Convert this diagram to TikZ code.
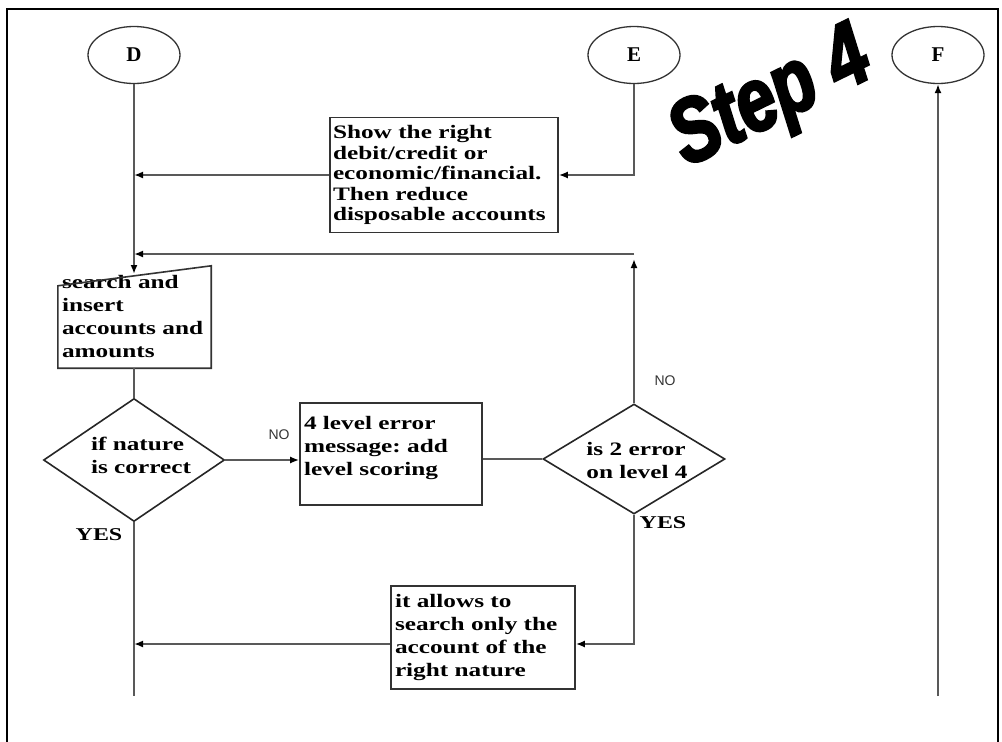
\documentclass[tikz,border=0pt]{standalone}
\usepackage{fontspec}
\setmainfont{Liberation Serif}
\newfontfamily\boxfont[FakeStretch=1.33]{Liberation Serif}
\newfontfamily\nofont{Liberation Sans}
\newfontfamily\stepfont[FakeBold=3,FakeStretch=0.78]{Liberation Sans}
\usetikzlibrary{arrows.meta,shapes.geometric,calc}
\frenchspacing
\begin{document}
\begin{tikzpicture}[x=1pt,y=-1pt,
  conn/.style={draw=black!65, line width=1.8pt},
  arr/.style={conn, -{Latex[length=9pt,width=7pt,color=black]}},
  proc/.style={draw=black!80, line width=1.6pt, rectangle, inner xsep=4pt, inner ysep=0pt,
     align=left, anchor=center, font=\boxfont\bfseries\fontsize{19}{23}\selectfont},
  term/.style={draw=black!80, line width=1.3pt, ellipse, minimum width=92pt, minimum height=57pt,
     inner sep=0pt, font=\bfseries\fontsize{21}{24}\selectfont},
  dec/.style={draw=black!85, line width=1.6pt, diamond, inner sep=0pt},
  dectxt/.style={align=left, font=\boxfont\bfseries\fontsize{19}{23}\selectfont},
  nolab/.style={font=\nofont\fontsize{14}{16}\selectfont, text=black!80},
  yeslab/.style={font=\boxfont\bfseries\fontsize{18}{20}\selectfont}]
\useasboundingbox (0,0) rectangle (1002,742);
\draw[line width=1.6pt] (7,9) rectangle (998,790);

% terminals
\node[term] (D) at (134,55) {D};
\node[term] (E) at (634,55) {E};
\node[term] (F) at (938,55) {F};

% boxes
\node[proc, minimum width=228pt, minimum height=115pt, text width=222pt, inner xsep=3pt,
  font=\boxfont\bfseries\fontsize{19}{20.5}\selectfont] (b1) at (444,175)
  {Show the right\\debit/credit or\\economic/financial.\\Then reduce\\disposable accounts};

\node[align=left, inner xsep=4pt, inner ysep=0pt, minimum width=153pt, minimum height=102pt,
  text width=145pt, font=\boxfont\bfseries\fontsize{19}{23}\selectfont] (srch) at (134.5,317)
  {search and\\insert\\accounts and\\amounts};
\draw[draw=black!80, line width=1.6pt] (srch.south west) -- (srch.south east) -- (srch.north east)
  -- ($(srch.north west)+(0,20)$) -- cycle;

\node[proc, minimum width=182pt, minimum height=102pt, text width=174pt] (b2) at (391,454)
  {4 level error\\message: add\\level scoring\\[-6pt]~};

\node[proc, minimum width=184pt, minimum height=103pt, text width=176pt] (b3) at (483,637.5)
  {it allows to\\search only the\\account of the\\right nature};

% decisions
\node[dec, minimum width=181pt, minimum height=123pt,
  label={[dectxt, xshift=7pt, yshift=5pt]center:{if nature\\is correct}}] (d1) at (134,460) {};
\node[dec, minimum width=182pt, minimum height=110pt,
  label={[dectxt, xshift=3pt, yshift=-1pt]center:{is 2 error\\on level 4}}] (d2) at (634,459) {};

% Step 4
\node[rotate=26, font=\stepfont\bfseries\itshape\fontsize{90}{94}\selectfont] (step) at (772,101) {Step 4};

% coordinates
\coordinate (sTop) at (134,274);
\coordinate (loopc) at (634,254);
\coordinate (j3) at (634,644);
\coordinate (Dend) at (134,696);
\coordinate (Fstart) at (938,696);

% connectors
\draw[arr] (D.south) -- (sTop);
\draw[arr] (E.south) |- (b1.east);
\draw[arr] (b1.west) -- (b1.west -| D.south);
\draw[arr, shorten >=5pt] (d2.north) -- (loopc);
\draw[arr] (loopc) -- (loopc -| D.south);
\draw[conn] (srch.south -| D.south) -- (d1.north);
\draw[arr] (d1.east) -- (d1.east -| b2.west);
\draw[conn] (b2.east |- d2.west) -- (d2.west);
\draw[arr] (d2.south) -- (j3) -- (j3 -| b3.east);
\draw[arr] (j3 -| b3.west) -- (j3 -| D.south);
\draw[conn] (d1.south) -- (Dend);
\draw[arr] (Fstart) -- (F.south);

% labels
\node[nolab] (no1) at (279,435) {NO};
\node[nolab] (no2) at (665,381) {NO};
\node[yeslab] (yes1) at (99,535) {YES};
\node[yeslab] (yes2) at (663,523) {YES};
\end{tikzpicture}
\end{document}
